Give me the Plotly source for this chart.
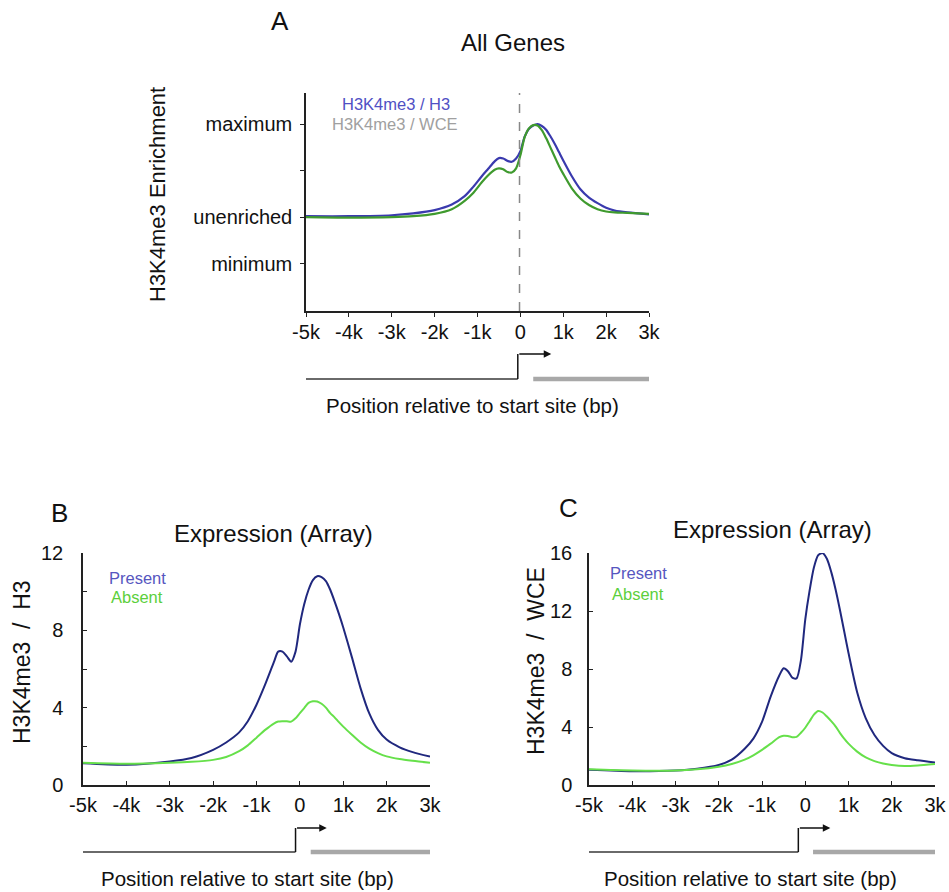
import plotly.graph_objects as go

W, H = 949, 892
FONT = "Liberation Sans, Arial, Helvetica, sans-serif"

# ---------------- data (positions in kb relative to TSS) ----------------
pos_A = [-5, -4, -3, -2.5, -2, -1.6, -1.3, -1.1, -0.9, -0.75, -0.6, -0.5, -0.4, -0.3,
         -0.2, -0.1, 0, 0.1, 0.2, 0.3, 0.4, 0.5, 0.6, 0.7, 0.8, 0.9, 1.0, 1.2, 1.4,
         1.6, 1.8, 2.0, 2.2, 2.5, 3.0]
# panel A: log2 enrichment (0 = unenriched, 2 = maximum, -1 = minimum)
A_h3 = [0.02, 0.02, 0.04, 0.08, 0.15, 0.27, 0.45, 0.65, 0.88, 1.04, 1.2, 1.27, 1.26, 1.21,
        1.19, 1.26, 1.42, 1.73, 1.9, 1.97, 2.0, 1.96, 1.88, 1.74, 1.58, 1.40, 1.22, 0.88, 0.6,
        0.42, 0.3, 0.2, 0.14, 0.1, 0.06]
A_wce = [0.0, -0.01, 0.0, 0.02, 0.07, 0.17, 0.35, 0.52, 0.75, 0.9, 1.02, 1.05, 1.03, 0.97,
         0.96, 1.05, 1.33, 1.72, 1.91, 1.98, 1.97, 1.87, 1.7, 1.5, 1.3, 1.1, 0.93, 0.62, 0.4,
         0.26, 0.17, 0.12, 0.1, 0.09, 0.07]
A_ticks = [-1, 0, 1, 2]
A_ticktext = ["minimum", "unenriched", "", "maximum"]

pos_BC = [-5, -4, -3, -2.5, -2, -1.7, -1.4, -1.2, -1.0, -0.8, -0.6, -0.5, -0.4, -0.3,
          -0.2, -0.1, 0, 0.1, 0.2, 0.3, 0.4, 0.5, 0.6, 0.7, 0.8, 0.9, 1.0, 1.2, 1.4,
          1.6, 1.8, 2.0, 2.3, 2.6, 3.0]
B_present = [1.13, 1.05, 1.22, 1.4, 1.82, 2.2, 2.72, 3.3, 4.15, 5.2, 6.35, 6.9, 6.9, 6.65,
             6.38, 6.9, 8.3, 9.35, 10.1, 10.6, 10.8, 10.75, 10.55, 10.1, 9.5, 8.85, 8.15, 6.6, 5.0,
             3.7, 2.85, 2.35, 1.95, 1.7, 1.47]
B_absent = [1.15, 1.1, 1.15, 1.2, 1.3, 1.45, 1.75, 2.05, 2.45, 2.85, 3.18, 3.28, 3.3, 3.3,
            3.28, 3.45, 3.72, 3.98, 4.25, 4.33, 4.32, 4.2, 4.0, 3.72, 3.5, 3.25, 3.02, 2.6, 2.2,
            1.88, 1.65, 1.48, 1.34, 1.25, 1.15]
C_present = [1.05, 0.95, 1.0, 1.12, 1.38, 1.75, 2.5, 3.2, 4.35, 6.1, 7.55, 8.05, 7.85, 7.4,
             7.35, 8.6, 11.4, 13.4, 15.0, 15.85, 16.0, 15.6, 14.7, 13.5, 12.1, 10.6, 9.1, 6.4, 4.6,
             3.45, 2.7, 2.2, 1.85, 1.7, 1.55]
C_absent = [1.08, 1.0, 1.0, 1.08, 1.26, 1.45, 1.75, 2.05, 2.42, 2.85, 3.3, 3.4, 3.38, 3.3,
            3.32, 3.6, 3.95, 4.4, 4.85, 5.1, 5.0, 4.72, 4.4, 4.05, 3.6, 3.2, 2.85, 2.3, 1.9,
            1.65, 1.48, 1.38, 1.31, 1.35, 1.45]

x_ticks = [-5, -4, -3, -2, -1, 0, 1, 2, 3]
x_ticktext = ["-5k", "-4k", "-3k", "-2k", "-1k", "0", "1k", "2k", "3k"]


def px(x):
    return x / W


def py(y):
    return 1 - y / H


fig = go.Figure()

# colours
A_BLUE, A_GREEN = "#3a3aae", "#3f9a2e"
BC_BLUE, BC_GREEN = "#20287e", "#66e04a"

fig.add_trace(go.Scatter(x=pos_A, y=A_h3, mode="lines", line=dict(color=A_BLUE, width=2.2, shape="spline", smoothing=0.8),
                         xaxis="x", yaxis="y"))
fig.add_trace(go.Scatter(x=pos_A, y=A_wce, mode="lines", line=dict(color=A_GREEN, width=2.2, shape="spline", smoothing=0.8),
                         xaxis="x", yaxis="y"))
fig.add_trace(go.Scatter(x=pos_BC, y=B_present, mode="lines", line=dict(color=BC_BLUE, width=2, shape="spline", smoothing=0.7),
                         xaxis="x2", yaxis="y2"))
fig.add_trace(go.Scatter(x=pos_BC, y=B_absent, mode="lines", line=dict(color=BC_GREEN, width=2, shape="spline", smoothing=0.7),
                         xaxis="x2", yaxis="y2"))
fig.add_trace(go.Scatter(x=pos_BC, y=C_present, mode="lines", line=dict(color=BC_BLUE, width=2, shape="spline", smoothing=0.7),
                         xaxis="x3", yaxis="y3"))
fig.add_trace(go.Scatter(x=pos_BC, y=C_absent, mode="lines", line=dict(color=BC_GREEN, width=2, shape="spline", smoothing=0.7),
                         xaxis="x3", yaxis="y3"))

axis_common = dict(showline=True, linecolor="#222", linewidth=1.5, showgrid=False, zeroline=False, automargin=False,
                   tickfont=dict(family=FONT, size=20, color="#111"), tickcolor="#222", ticklen=4, tickwidth=1.2)

fig.update_layout(
    width=W, height=H, margin=dict(l=0, r=0, t=0, b=0, pad=0, autoexpand=False),
    paper_bgcolor="white", plot_bgcolor="white", showlegend=False,
    font=dict(family=FONT, color="#111"),
    xaxis=dict(domain=[px(306), px(649)], anchor="y", range=[-5, 3], tickvals=x_ticks, ticktext=x_ticktext,
               ticks="outside", ticklabelstandoff=-2, **axis_common),
    yaxis=dict(domain=[py(311), py(93)], anchor="x", range=[-2.02, 2.67], tickvals=A_ticks, ticktext=A_ticktext,
               ticks="outside", ticklabelstandoff=4, **axis_common),
    xaxis2=dict(domain=[px(83), px(430)], anchor="y2", range=[-5, 3], tickvals=x_ticks, ticktext=x_ticktext,
                ticks="inside", ticklabelstandoff=1, **axis_common),
    yaxis2=dict(domain=[py(785), py(553)], anchor="x2", range=[0, 12], tickvals=[0, 2, 4, 6, 8, 10, 12],
                ticktext=["0", "", "4", "", "8", "", "12"], ticks="inside", ticklabelstandoff=14, **axis_common),
    xaxis3=dict(domain=[px(589), px(935)], anchor="y3", range=[-5, 3], tickvals=x_ticks, ticktext=x_ticktext,
                ticks="inside", ticklabelstandoff=1, **axis_common),
    yaxis3=dict(domain=[py(785), py(553)], anchor="x3", range=[0, 16], tickvals=[0, 4, 8, 12, 16],
                ticks="inside", ticklabelstandoff=11, **axis_common),
)

shapes = []
annos = []

# dashed TSS line in panel A
shapes.append(dict(type="line", xref="x", yref="y domain", x0=-0.02, x1=-0.02, y0=0, y1=1,
                   line=dict(color="#888", width=1.5, dash="dash")))

# gene diagrams: (xaxis, line y px, arrow top px, tss kb, arrow end kb, thick start kb, thick end kb)
diagrams = [("x", 379, 354, -0.06, 0.72, 0.3, 3.13),
            ("x2", 852, 828, -0.1, 0.62, 0.25, 3.05),
            ("x3", 852, 828, -0.16, 0.58, 0.18, 3.0)]
for xr, yb, yt, tss, aend, ts, te in diagrams:
    shapes.append(dict(type="line", xref=xr, yref="paper", x0=-5, x1=tss, y0=py(yb), y1=py(yb),
                       line=dict(color="#6a6a6a", width=2)))
    shapes.append(dict(type="line", xref=xr, yref="paper", x0=ts, x1=te, y0=py(yb), y1=py(yb),
                       line=dict(color="#a8a8a8", width=4.5)))
    shapes.append(dict(type="line", xref=xr, yref="paper", x0=tss, x1=tss, y0=py(yb), y1=py(yt),
                       line=dict(color="#111", width=1.5)))
    annos.append(dict(xref=xr, yref="paper", x=aend, y=py(yt), axref=xr, ax=tss, ayref="pixel", ay=0,
                      text="", showarrow=True, arrowhead=2, arrowsize=1, arrowwidth=1.5, arrowcolor="#111"))


def text(x, y, s, size, color="#111", angle=0):
    annos.append(dict(xref="paper", yref="paper", x=px(x), y=py(y), text=s, showarrow=False,
                      xanchor="center", yanchor="middle", textangle=angle,
                      font=dict(family=FONT, size=size, color=color)))


# panel letters and titles
text(280, 21, "A", 26)
text(513, 43, "All Genes", 24)
text(59, 513, "B", 26)
text(273, 533, "Expression (Array)", 24)
text(568, 508, "C", 26)
text(772, 529, "Expression (Array)", 24)

# axis titles
text(157, 195, "H3K4me3 Enrichment", 22, angle=-90)
text(22, 662, "H3K4me3  /  H3", 23, angle=-90)
text(536, 661, "H3K4me3  /  WCE", 23, angle=-90)
text(472, 405, "Position relative to start site (bp)", 20.5)
text(247, 878, "Position relative to start site (bp)", 20.5)
text(750, 878, "Position relative to start site (bp)", 20.5)

# in-plot legends
text(396, 104, "H3K4me3 / H3", 16.5, "#5050c4")
text(395, 124, "H3K4me3 / WCE", 16.5, "#a0a0a0")
text(137, 578, "Present", 16.5, "#5656c0")
text(137, 597, "Absent", 16.5, "#5ccf3c")
text(638, 573, "Present", 16.5, "#5656c0")
text(638, 594, "Absent", 16.5, "#5ccf3c")

fig.update_layout(shapes=shapes, annotations=annos)
fig.write_html("out.html")
